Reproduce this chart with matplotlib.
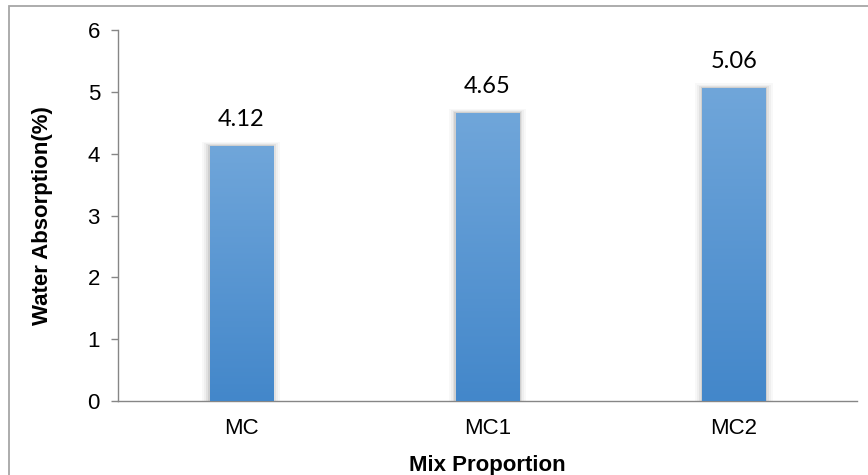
import matplotlib
matplotlib.use('Agg')
import matplotlib.pyplot as plt
import matplotlib.patches as mpatches
import numpy as np

categories = ['MC', 'MC1', 'MC2']
water_absorption = [4.12, 4.65, 5.06]
value_labels = ['4.12', '4.65', '5.06']
y_ticks = [0, 1, 2, 3, 4, 5, 6]

W, H = 868, 475
fig = plt.figure(figsize=(W / 100, H / 100), dpi=100, facecolor='white')
ax = fig.add_axes([118 / W, (H - 401) / H, (857 - 118) / W, (401 - 30) / H])

# outer chart-area border (right/bottom run off the image)
fig.add_artist(mpatches.Rectangle((9 / W, -0.05), 1.0, (H - 6) / H + 0.05,
                                  transform=fig.transFigure, fill=False,
                                  edgecolor='#a6a6a6', linewidth=1.3))

x = np.arange(len(categories))
bar_w = 0.256

# gradient fill: light top, darker bottom
grad = np.linspace(0, 1, 256).reshape(-1, 1)
top = np.array([0x70, 0xa6, 0xda]) / 255
bot = np.array([0x43, 0x87, 0xca]) / 255
img = bot + (top - bot) * grad[..., None]
img = img.reshape(256, 1, 3)

for xi, v, lab in zip(x, water_absorption, value_labels):
    # soft shadow
    for pad, a in [(0.03, 0.05), (0.022, 0.07), (0.014, 0.12), (0.007, 0.18)]:
        ax.add_patch(mpatches.Rectangle((xi - bar_w / 2 - pad, 0), bar_w + 2 * pad,
                                        v + pad * 2.5, facecolor='#808080',
                                        edgecolor='none', alpha=a, zorder=2))
    bar = ax.bar(xi, v, width=bar_w, color='none', zorder=3)[0]
    im = ax.imshow(img, extent=[xi - bar_w / 2, xi + bar_w / 2, 0, v],
                   origin='lower', aspect='auto', zorder=3)
    im.set_clip_path(bar)
    ax.annotate(lab, (xi, v), xytext=(0, 27), textcoords='offset pixels',
                ha='center', va='center', fontsize=17, family='Lato',
                color='black')

ax.set_xlim(-0.5, len(categories) - 0.5)
ax.set_ylim(0, 6)
ax.set_xticks(x)
ax.set_xticklabels(categories)
ax.set_yticks(y_ticks)
ax.tick_params(axis='x', length=0, pad=12, labelsize=16)
ax.tick_params(axis='y', length=5, width=1, color='#868686', pad=8, labelsize=16)
for t in ax.get_xticklabels() + ax.get_yticklabels():
    t.set_family('Liberation Sans')

for s in ['top', 'right']:
    ax.spines[s].set_visible(False)
for s in ['left', 'bottom']:
    ax.spines[s].set_color('#868686')
    ax.spines[s].set_linewidth(1)

ax.set_xlabel('Mix Proportion', fontsize=16, fontweight='bold', family='Liberation Sans',
              labelpad=12)
ax.set_ylabel('Water Absorption(%)', fontsize=16, fontweight='bold', family='Liberation Sans',
              labelpad=25)

fig.savefig('out.png', dpi=100, facecolor='white')
